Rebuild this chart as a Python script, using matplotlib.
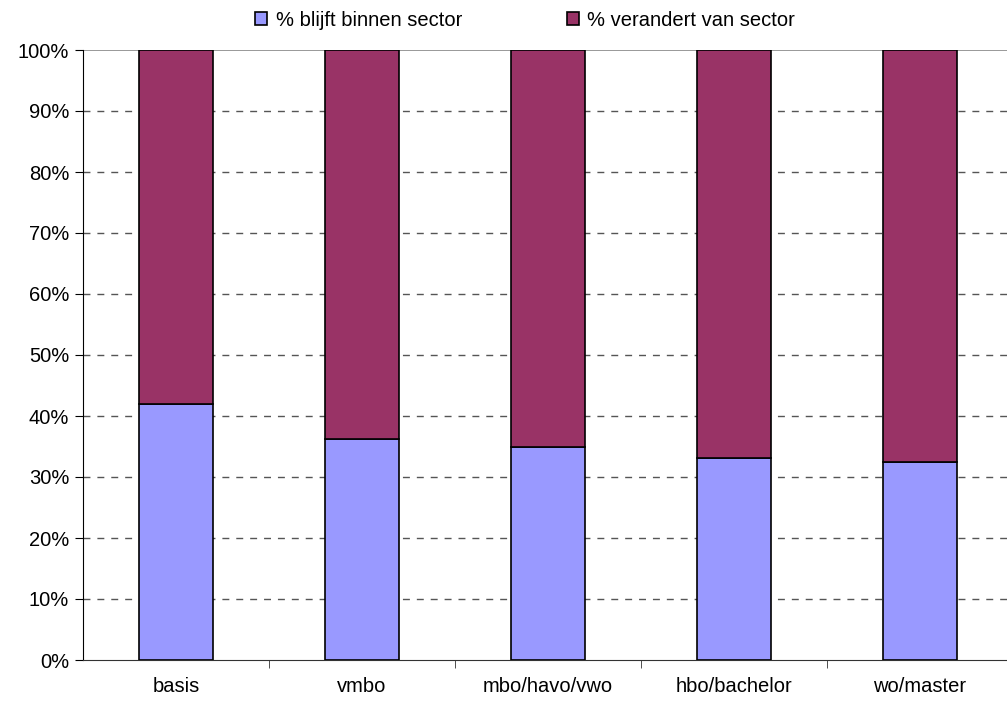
import numpy as np
import matplotlib.pyplot as plt
from matplotlib.ticker import PercentFormatter

plt.rcParams['font.family'] = ['Liberation Sans', 'DejaVu Sans']

categories = ["basis", "vmbo", "mbo/havo/vwo", "hbo/bachelor", "wo/master"]
blijft = [42.0, 36.3, 34.9, 33.1, 32.5]
verandert = [100 - v for v in blijft]
labels = ["% blijft binnen sector", "% verandert van sector"]


def main():
    W, H = 1007, 702
    fig = plt.figure(figsize=(W / 100, H / 100), dpi=100, facecolor="w")
    ax = fig.add_axes([83 / W, (H - 660) / H, 930 / W, 610 / H])

    x = np.arange(len(categories))
    ax.bar(x, blijft, width=0.40, color="#9999FF", edgecolor="black", linewidth=1.2,
           label=labels[0], zorder=3)
    ax.bar(x, verandert, bottom=blijft, width=0.40, color="#993366", edgecolor="black",
           linewidth=1.2, label=labels[1], zorder=3)

    ax.set_xlim(-0.5, len(categories) - 0.5)
    ax.set_ylim(0, 100)
    ax.set_yticks(np.arange(0, 101, 10))
    ax.yaxis.set_major_formatter(PercentFormatter(decimals=0))
    ax.set_xticks(x)
    ax.set_xticklabels(categories)
    ax.set_xticks(np.arange(0.5, len(categories) - 0.5, 1), minor=True)
    ax.tick_params(axis="x", which="major", length=0, pad=12, labelsize=14.5)
    ax.tick_params(axis="x", which="minor", length=6, direction="out", color="#333333")
    ax.tick_params(axis="y", length=6, direction="out", labelsize=14.5, pad=4)

    for y in range(10, 100, 10):
        ax.axhline(y, color="#555555", linestyle=(0, (5, 5)), linewidth=1, zorder=1)
    ax.axhline(100, color="#888888", linewidth=1.2, zorder=1)

    ax.spines["top"].set_visible(False)
    ax.spines["right"].set_visible(False)
    ax.spines["left"].set_color("black")
    ax.spines["bottom"].set_color("#333333")

    fig.legend(loc="center", bbox_to_anchor=(525 / W, 1 - 20 / H), ncol=2, frameon=False,
               fontsize=14.5, handlelength=0.6, handleheight=0.6, columnspacing=5.2,
               handletextpad=0.4)

    plt.savefig("out.png", dpi=100)


if __name__ == "__main__":
    main()
